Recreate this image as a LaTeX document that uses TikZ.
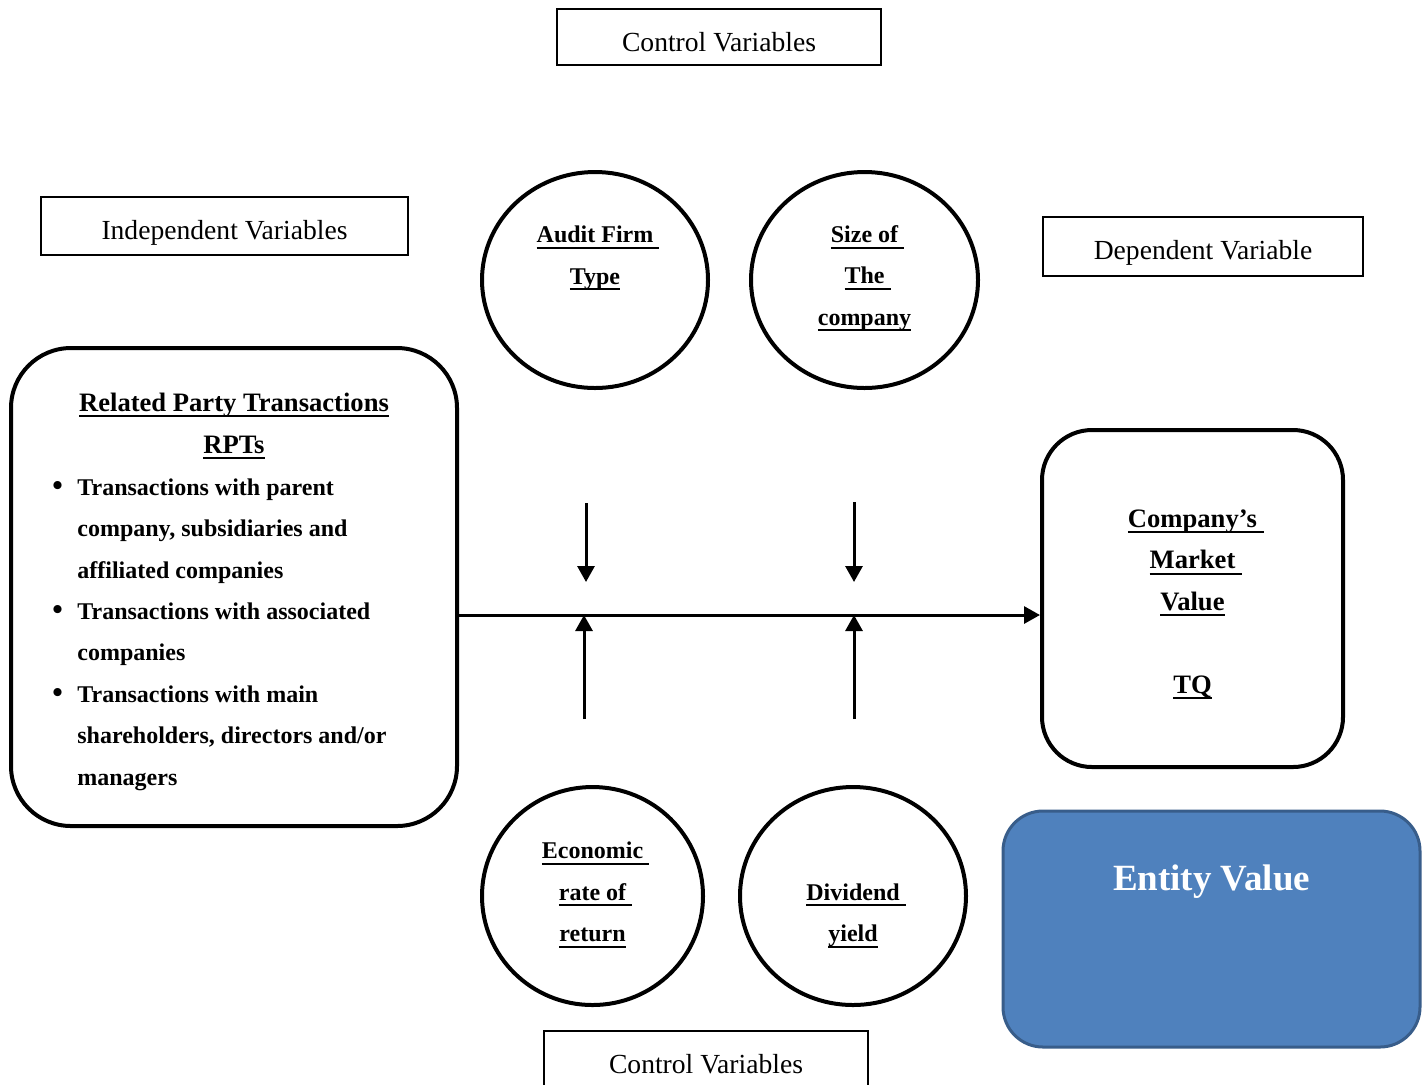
\documentclass[tikz,border=0pt]{standalone}
\usepackage{fontspec}
\setmainfont{Liberation Serif}
\usetikzlibrary{shapes.geometric,arrows.meta}
\definecolor{evfill}{HTML}{4F81BD}
\definecolor{evline}{HTML}{385D8A}
\newcommand{\myuline}[1]{\setbox0=\hbox{#1}\rlap{\vrule height -2.0pt depth 3.0pt width \wd0}\box0}
\newcommand{\tsp}{\rlap{\myuline{\ }}}
\tikzset{
  plainbox/.style={draw, line width=1pt, rectangle, inner sep=0pt},
  plaintxt/.style={font=\fontsize{13.8}{16}\selectfont, inner sep=0pt, anchor=base},
  varcirc/.style={draw, line width=2pt, ellipse, inner sep=0pt},
  roundbox/.style={draw, line width=2pt, rectangle, inner sep=0pt},
  circtxt/.style={font=\fontsize{12}{20.7}\selectfont\bfseries, align=center, inner sep=0pt},
  flowarrow/.style={line width=1.5pt, -{Triangle[length=8pt,width=8.5pt]}},
}
\begin{document}
\begin{tikzpicture}[x=0.5pt,y=-0.5pt]
\clip (0,0) rectangle (1428,1084);
\fill[white] (0,0) rectangle (1428,1084);

% header boxes
\node[plainbox, minimum width=162pt, minimum height=28pt] (ctop) at (719,37) {};
\node[plaintxt] (ctoptxt) at (719,51) {Control Variables};
\node[plainbox, minimum width=183.5pt, minimum height=29pt] (indep) at (224.5,226) {};
\node[plaintxt] (indeptxt) at (224.5,239) {Independent Variables};
\node[plainbox, minimum width=160pt, minimum height=29.5pt] (dep) at (1203,246.5) {};
\node[plaintxt] (deptxt) at (1203,259) {Dependent Variable};
\node[plainbox, minimum width=162pt, minimum height=32pt] (cbot) at (706,1063) {};
\node[plaintxt] (cbottxt) at (706,1073) {Control Variables};

% control variable circles
\node[varcirc, minimum width=113pt, minimum height=108pt] (audit) at (595,280) {};
\node[circtxt] (audittxt) at (595,258) {\myuline{Audit Firm}\tsp\\\myuline{Type}};
\node[varcirc, minimum width=113.5pt, minimum height=108pt] (size) at (864.5,280) {};
\node[circtxt] (sizetxt) at (864.5,278.5) {\myuline{Size of}\tsp\\\myuline{The}\tsp\\\myuline{company}};
\node[varcirc, minimum width=110.5pt, minimum height=109pt] (econ) at (592.5,896) {};
\node[circtxt] (econtxt) at (592.5,895) {\myuline{Economic}\tsp\\\myuline{rate of}\tsp\\\myuline{return}};
\node[varcirc, minimum width=113pt, minimum height=109pt] (div) at (853,896) {};
\node[circtxt] (divtxt) at (853,915.5) {\myuline{Dividend}\tsp\\\myuline{yield}};

% independent variable box
\node[roundbox, rounded corners=30pt, minimum width=223pt, minimum height=239pt] (rpt) at (234,587) {};
\node[circtxt, font=\fontsize{13.3}{21}\selectfont\bfseries] (rpttitle) at (234,426)
  {\myuline{Related Party Transactions}\\\myuline{RPTs}};
\node[inner sep=0pt, anchor=west, align=left, font=\fontsize{12}{20.7}\selectfont\bfseries] (rptlist) at (52,634.5)
  {\makebox[12.5pt][l]{\fontsize{15}{20.7}\selectfont\textbullet}Transactions with parent\\
   \hspace*{12.5pt}company, subsidiaries and\\
   \hspace*{12.5pt}affiliated companies\\
   \makebox[12.5pt][l]{\fontsize{15}{20.7}\selectfont\textbullet}Transactions with associated\\
   \hspace*{12.5pt}companies\\
   \makebox[12.5pt][l]{\fontsize{15}{20.7}\selectfont\textbullet}Transactions with main\\
   \hspace*{12.5pt}shareholders, directors and/or\\
   \hspace*{12.5pt}managers};

% dependent variable box
\node[roundbox, rounded corners=25pt, minimum width=150.5pt, minimum height=168.5pt] (mv) at (1192.5,598.5) {};
\node[circtxt, font=\fontsize{13.3}{20.75}\selectfont\bfseries] (mvtxt) at (1192.5,604.5)
  {\myuline{Company’s}\tsp\\\myuline{Market}\tsp\\\myuline{Value}\\[20.75pt]\myuline{TQ}};

% entity value box
\node[draw=evline, fill=evfill, line width=1.5pt, rounded corners=20pt, minimum width=208.5pt, minimum height=118pt, inner sep=0pt] (ev) at (1211.5,929) {};
\node[inner sep=0pt, anchor=base, text=white, font=\fontsize{18.5}{22}\selectfont\bfseries] (evtxt) at (1211.5,890) {Entity Value};

% connectors
\draw[flowarrow] (rpt.east |- 0,615) -- (mv.west |- 0,615);
\coordinate (d1s) at (586,503); \coordinate (d1e) at (586,582);
\coordinate (d2s) at (854,502); \coordinate (d2e) at (854,582);
\coordinate (u1s) at (584,719); \coordinate (u1e) at (584,615);
\coordinate (u2s) at (854,719); \coordinate (u2e) at (854,615);
\draw[flowarrow] (d1s) -- (d1e);
\draw[flowarrow] (d2s) -- (d2e);
\draw[flowarrow] (u1s) -- (u1e);
\draw[flowarrow] (u2s) -- (u2e);
\end{tikzpicture}
\end{document}
